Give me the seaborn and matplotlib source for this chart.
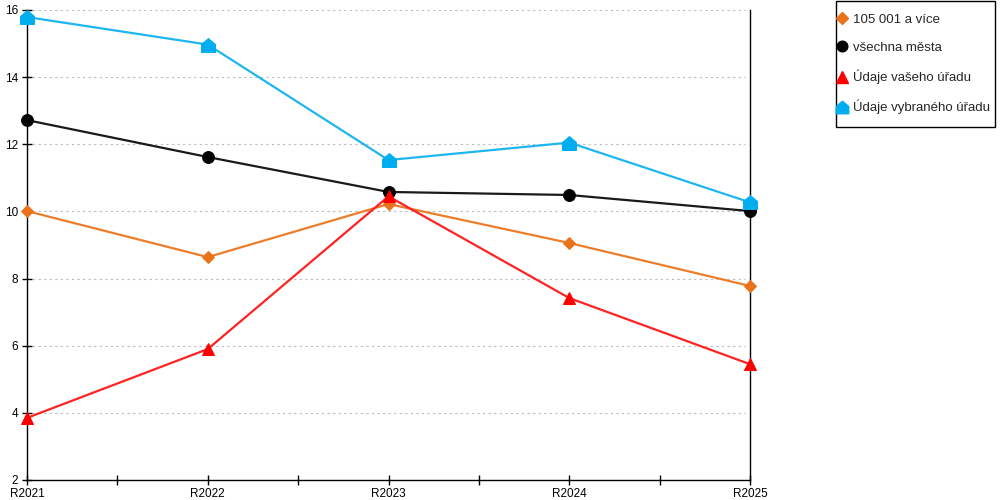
import pandas as pd
import seaborn as sns
import matplotlib.pyplot as plt
from matplotlib.lines import Line2D
from matplotlib.patches import Rectangle
from matplotlib.path import Path

# data
years = ['R2021', 'R2022', 'R2023', 'R2024', 'R2025']
velka_mesta = [10.01, 8.64, 10.22, 9.06, 7.78]
vsechna_mesta = [12.72, 11.62, 10.58, 10.49, 10.01]
vas_urad = [3.85, 5.90, 10.45, 7.42, 5.45]
vybrany_urad = [15.79, 14.97, 11.53, 12.05, 10.27]

labels = ['105 001 a více', 'všechna města', 'Údaje vašeho úřadu', 'Údaje vybraného úřadu']
colors = ['#E8731A', '#000000', '#FF0000', '#00AEEF']
line_colors = ['#EC7D2A', '#1A1A1A', '#FF2222', '#1EB6F0']

# house shaped marker (triangle on a square)
house = Path([(-1, -1), (1, -1), (1, 0.15), (0, 1), (-1, 0.15), (-1, -1)],
             [Path.MOVETO, Path.LINETO, Path.LINETO, Path.LINETO, Path.LINETO, Path.CLOSEPOLY])
markers = ['D', 'o', '^', house]
msizes = [6.5, 8.5, 9, 10]

df = pd.DataFrame({
    'rok': years * 4,
    'hodnota': velka_mesta + vsechna_mesta + vas_urad + vybrany_urad,
    'serie': sum([[l] * len(years) for l in labels], []),
})

sns.set_style('white')
plt.rcParams['font.family'] = ['Liberation Sans', 'DejaVu Sans']

fig = plt.figure(figsize=(10, 5), dpi=100)
ax = fig.add_axes([0.027, 0.04, 0.723, 0.94])

for lab, c, lc, m, ms in zip(labels, colors, line_colors, markers, msizes):
    sub = df[df['serie'] == lab]
    sns.lineplot(data=sub, x='rok', y='hodnota', ax=ax, color=lc, linewidth=1.6,
                 marker=m, markersize=ms, markerfacecolor=c, markeredgecolor=c,
                 sort=False, legend=False, clip_on=False, zorder=3)

ax.set_xlim(0, 4)
ax.set_ylim(2, 16)
ax.set_yticks(range(2, 17, 2))
ax.set_xticks(range(5))
ax.set_xticklabels(years)
ax.set_xticks([0.5, 1.5, 2.5, 3.5], minor=True)
ax.set_xlabel('')
ax.set_ylabel('')

for y in range(4, 17, 2):
    ax.plot([0, 3.97], [y, y], color='#BBBBBB', linestyle=(0, (2, 3)),
            linewidth=0.8, zorder=0)

for s in ['left', 'bottom', 'right']:
    ax.spines[s].set_color('black')
    ax.spines[s].set_linewidth(1)
ax.spines['top'].set_visible(False)

ax.tick_params(axis='both', which='both', direction='inout', length=7, width=1,
               colors='black', labelsize=8.5, pad=1, bottom=True, left=True)
ax.tick_params(axis='x', which='major', pad=2)
ax.tick_params(axis='y', right=False, pad=3)

# legend: entries without frame, box drawn separately
handles = [Line2D([], [], linestyle='none', marker=m, markersize=ms * 0.9,
                  markerfacecolor=c, markeredgecolor=c)
           for c, m, ms in zip(colors, markers, msizes)]
fig.legend(handles, labels, loc='upper left', bbox_to_anchor=(0.838, 0.973),
           bbox_transform=fig.transFigure, fontsize=9.5, frameon=False,
           labelspacing=1.2, handlelength=0.6, handletextpad=0.5,
           borderpad=0, borderaxespad=0)
fig.add_artist(Rectangle((0.8355, 1 - 127 / 500), 0.159, 126 / 500,
                         transform=fig.transFigure, fill=False,
                         edgecolor='black', linewidth=1))

fig.savefig('out.png', dpi=100)
